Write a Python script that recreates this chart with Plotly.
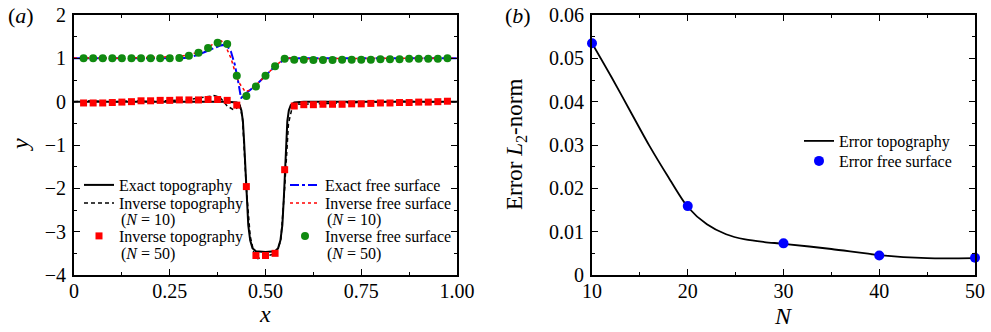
import plotly.graph_objects as go

W, H = 991, 332          # browser window size

# ---------------- Panel (a) data ----------------
topo_x = [0, 0.40, 0.425, 0.432, 0.437, 0.441, 0.444, 0.447, 0.451, 0.455, 0.46, 0.466, 0.475, 0.50,
          0.525, 0.533, 0.539, 0.544, 0.548, 0.551, 0.554, 0.557, 0.561, 0.566, 0.575, 0.60, 1.0]
topo_y = [0, 0, -0.02, -0.08, -0.2, -0.45, -0.9, -1.5, -2.2, -2.85, -3.2, -3.38, -3.45, -3.47,
          -3.45, -3.38, -3.2, -2.85, -2.2, -1.5, -0.9, -0.45, -0.2, -0.08, -0.02, 0, 0]

inv10_topo_x = [0, 0.05, 0.1, 0.15, 0.2, 0.25, 0.3, 0.33, 0.365, 0.38, 0.40, 0.415, 0.425, 0.433, 0.44,
                0.445, 0.45, 0.46, 0.47, 0.48, 0.5, 0.52, 0.53, 0.54, 0.55, 0.555, 0.56, 0.57, 0.58,
                0.6, 0.65, 0.7, 0.75, 0.8, 0.85, 0.9, 0.95, 1.0]
inv10_topo_y = [0.0, 0.02, -0.01, 0.02, 0.0, 0.02, 0.05, 0.09, 0.14, 0.11, -0.1, -0.18, -0.15, -0.05, -0.4,
                -1.2, -2.0, -3.1, -3.5, -3.62, -3.57, -3.52, -3.45, -3.2, -2.0, -1.2, -0.5, -0.12, -0.05,
                -0.06, -0.04, -0.03, -0.02, 0.0, 0.01, 0.0, 0.0, 0.0]

marker_x = [0.025, 0.05, 0.075, 0.1, 0.125, 0.15, 0.175, 0.2, 0.225, 0.25, 0.275, 0.3, 0.325,
            0.35, 0.375, 0.4, 0.425, 0.45, 0.475, 0.5, 0.525, 0.55, 0.575, 0.6, 0.625, 0.65,
            0.675, 0.7, 0.725, 0.75, 0.775, 0.8, 0.825, 0.85, 0.875, 0.9, 0.925, 0.95, 0.975]
inv50_topo_y = [-0.03, -0.03, -0.03, -0.02, -0.01, 0.0, 0.02, 0.02, 0.03, 0.03, 0.04, 0.04, 0.04,
                0.05, 0.05, 0.03, -0.08, -1.96, -3.55, -3.55, -3.5, -1.57, -0.1, -0.07, -0.07, -0.06,
                -0.06, -0.06, -0.05, -0.05, -0.04, -0.03, -0.03, -0.02, -0.02, -0.01, -0.01, 0.0, 0.01]
inv50_fs_y = [1.0, 1.0, 1.0, 1.0, 1.0, 1.0, 1.0, 1.0, 1.0, 1.0, 1.01, 1.06, 1.13,
              1.24, 1.36, 1.33, 0.6, 0.13, 0.35, 0.6, 0.82, 0.99, 0.97, 0.97, 0.96, 0.96,
              0.96, 0.97, 0.97, 0.97, 0.97, 0.98, 0.98, 0.98, 0.99, 0.99, 0.99, 0.99, 1.0]

fs_x = [0, 0.25, 0.28, 0.3, 0.32, 0.34, 0.36, 0.38, 0.39, 0.40, 0.41, 0.42, 0.43, 0.436, 0.45,
        0.475, 0.5, 0.525, 0.55, 0.56, 0.58, 1.0]
fs_y = [1, 1, 1.0, 1.02, 1.07, 1.14, 1.22, 1.29, 1.31, 1.29, 1.15, 0.85, 0.4, 0.08, 0.2,
        0.38, 0.6, 0.82, 0.98, 1.0, 1.0, 1.0]

inv10_fs_x = [0, 0.1, 0.2, 0.25, 0.28, 0.3, 0.32, 0.34, 0.36, 0.375, 0.385, 0.395, 0.41, 0.42,
              0.43, 0.447, 0.46, 0.475, 0.5, 0.525, 0.55, 0.57, 0.6, 0.7, 0.8, 0.9, 1.0]
inv10_fs_y = [1.01, 1.0, 1.02, 1.03, 1.05, 1.08, 1.13, 1.2, 1.31, 1.42, 1.4, 1.3, 1.0, 0.7,
              0.45, 0.23, 0.27, 0.38, 0.6, 0.82, 1.0, 1.01, 0.99, 1.0, 1.0, 1.0, 1.0]

a_xticks = [0, 0.25, 0.5, 0.75, 1.0]
a_xticklabels = ["0", "0.25", "0.50", "0.75", "1.00"]
a_yticks = [-4, -3, -2, -1, 0, 1, 2]
a_yticklabels = ["\u22124", "\u22123", "\u22122", "\u22121", "0", "1", "2"]

# ---------------- Panel (b) data ----------------
N_pts = [10, 20, 30, 40, 50]
err_fs = [0.0535, 0.0159, 0.0073, 0.0045, 0.0040]
curve_N = [10, 12, 14, 16, 18, 20, 22, 24, 26, 28, 30, 35, 40, 45, 50]
err_topo = [0.0535, 0.0458, 0.0378, 0.0298, 0.0225, 0.0157, 0.0117, 0.0094, 0.0082, 0.0076,
            0.0072, 0.0060, 0.0046, 0.0039, 0.0039]
b_xticks = [10, 20, 30, 40, 50]
b_yticks = [0, 0.01, 0.02, 0.03, 0.04, 0.05, 0.06]
b_yticklabels = ["0", "0.01", "0.02", "0.03", "0.04", "0.05", "0.06"]

FONT = "Liberation Serif, Times New Roman, serif"
RED = "#ff0000"
BLUE = "#0000ff"
GREEN = "#108a10"
LEG_SIZE = 16


def px_x(p):
    """window pixel -> paper fraction"""
    return p / W


def px_y(p):
    return 1 - p / H


fig = go.Figure()

fig.add_trace(go.Scatter(x=topo_x, y=topo_y, mode="lines", name="Exact topography",
                         line=dict(color="black", width=2), legend="legend"))
fig.add_trace(go.Scatter(x=inv10_topo_x, y=inv10_topo_y, mode="lines",
                         name="Inverse topography",
                         line=dict(color="black", width=1.5, dash="4px,3px"), legend="legend2"))
fig.add_trace(go.Scatter(x=marker_x, y=inv50_topo_y, mode="markers",
                         name="Inverse topography",
                         marker=dict(color=RED, symbol="square", size=7), legend="legend3"))
fig.add_trace(go.Scatter(x=fs_x, y=fs_y, mode="lines", name="Exact free surface",
                         line=dict(color=BLUE, width=2, dash="dashdot"), legend="legend4"))
fig.add_trace(go.Scatter(x=inv10_fs_x, y=inv10_fs_y, mode="lines",
                         name="Inverse free surface",
                         line=dict(color=RED, width=1.5, dash="dot"), legend="legend5"))
fig.add_trace(go.Scatter(x=marker_x, y=inv50_fs_y, mode="markers",
                         name="Inverse free surface",
                         marker=dict(color=GREEN, symbol="circle", size=8), legend="legend6"))

fig.add_trace(go.Scatter(x=curve_N, y=err_topo, mode="lines", name="Error topography",
                         line=dict(color="black", width=1.8, shape="spline", smoothing=0.8),
                         xaxis="x2", yaxis="y2", legend="legend7"))
fig.add_trace(go.Scatter(x=N_pts, y=err_fs, mode="markers", name="Error free surface",
                         marker=dict(color=BLUE, size=10), cliponaxis=False,
                         xaxis="x2", yaxis="y2", legend="legend8"))

ax_common = dict(showline=True, linewidth=2, linecolor="black", mirror="allticks",
                 ticks="inside", ticklen=6, tickwidth=1.2, tickcolor="black",
                 showgrid=False, zeroline=False, automargin=False, ticklabeloverflow="allow",
                 tickfont=dict(family=FONT, size=20, color="black"))


def leg(xp, yp):
    return dict(x=px_x(xp), y=px_y(yp), xanchor="left", yanchor="middle",
                bgcolor="rgba(0,0,0,0)", font=dict(family=FONT, size=LEG_SIZE, color="black"),
                itemwidth=30, borderwidth=0)


# legend text starts ~41px right of the legend's x
legend_rows = {
    "legend": (79, 185), "legend2": (79, 203), "legend3": (79, 236),
    "legend4": (285, 185), "legend5": (285, 203), "legend6": (285, 236),
    "legend7": (799, 141), "legend8": (799, 161),
}

layout_kwargs = {k: leg(*v) for k, v in legend_rows.items()}

fig.update_layout(
    width=W, height=H,
    margin=dict(l=0, r=0, t=0, b=0, autoexpand=False),
    paper_bgcolor="white", plot_bgcolor="white",
    font=dict(family=FONT, color="black"),
    xaxis=dict(domain=[px_x(74), px_x(457)], range=[0, 1], tickmode="array",
               tickvals=a_xticks, ticktext=a_xticklabels, ticklabelstandoff=-3,
               minor=dict(ticks="inside", ticklen=3, dtick=0.125, tick0=0, tickcolor="black"),
               anchor="y", **ax_common),
    yaxis=dict(domain=[px_y(275), px_y(15)], range=[-4, 2], tickmode="array",
               tickvals=a_yticks, ticktext=a_yticklabels, ticklabelstandoff=2,
               minor=dict(ticks="inside", ticklen=3, dtick=0.5, tick0=0, tickcolor="black"),
               anchor="x", **ax_common),
    xaxis2=dict(domain=[px_x(592), px_x(975)], range=[10, 50], tickmode="array",
                tickvals=b_xticks, ticklabelstandoff=-3,
                minor=dict(ticks="inside", ticklen=3, dtick=5, tick0=0, tickcolor="black"),
                anchor="y2", **ax_common),
    yaxis2=dict(domain=[px_y(275), px_y(15)], range=[0, 0.06], tickmode="array",
                tickvals=b_yticks, ticktext=b_yticklabels, ticklabelstandoff=2,
                minor=dict(ticks="inside", ticklen=3, dtick=0.005, tick0=0, tickcolor="black"),
                anchor="x2", **ax_common),
    showlegend=True,
    **layout_kwargs,
)

annots = [
    dict(text="(<i>a</i>)", x=21, y=15, size=22),
    dict(text="(<i>b</i>)", x=518, y=15, size=22),
    dict(text="<i>x</i>", x=265, y=314, size=24),
    dict(text="<i>y</i>", x=20, y=145, size=24, angle=-90),
    dict(text="<i>N</i>", x=783, y=316, size=24),
    dict(text="Error <i>L</i><sub>2</sub>-norm", x=516, y=145, size=23, angle=-90),
    # second lines of the two-line legend entries
    dict(text="(<i>N</i> = 10)", x=120, y=220, size=LEG_SIZE, anchor="left"),
    dict(text="(<i>N</i> = 50)", x=120, y=254, size=LEG_SIZE, anchor="left"),
    dict(text="(<i>N</i> = 10)", x=326, y=220, size=LEG_SIZE, anchor="left"),
    dict(text="(<i>N</i> = 50)", x=326, y=254, size=LEG_SIZE, anchor="left"),
]
for a in annots:
    fig.add_annotation(text=a["text"], x=px_x(a["x"]), y=px_y(a["y"]), xref="paper", yref="paper",
                       showarrow=False, xanchor=a.get("anchor", "center"), yanchor="middle",
                       textangle=a.get("angle", 0), borderpad=0,
                       font=dict(family=FONT, size=a.get("size", 19), color="black"))

# remove the browser's default page margin so the figure fills the window exactly
fig.write_html("out.html",
               config={"displayModeBar": False},
               post_script="document.body.style.margin='0';document.body.style.overflow='hidden';")
